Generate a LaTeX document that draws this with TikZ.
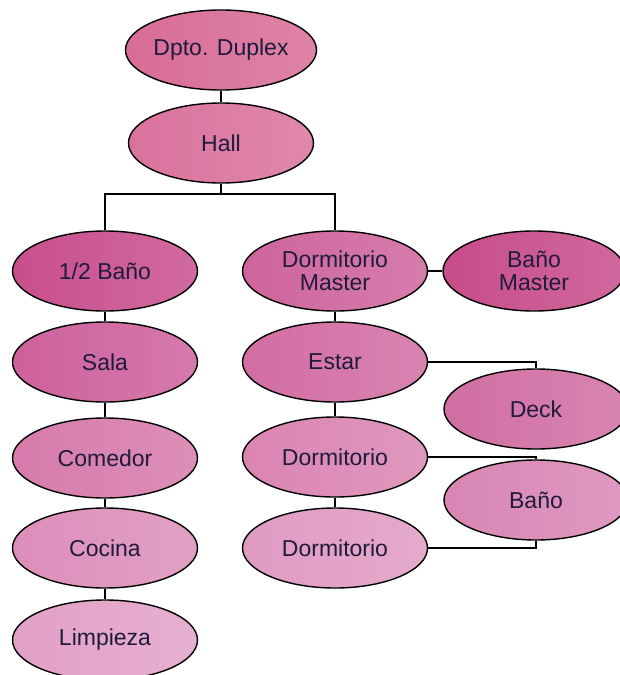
\documentclass[tikz,border=0pt]{standalone}
\usepackage{fontspec}
\setmainfont{Liberation Sans}
\usetikzlibrary{shapes.geometric}
\definecolor{txt}{RGB}{32,26,60}
\definecolor{cA}{RGB}{216,108,150}
\definecolor{cB}{RGB}{218,114,156}
\definecolor{cC}{RGB}{200,78,140}
\definecolor{cD}{RGB}{206,100,156}
\definecolor{cE}{RGB}{199,76,138}
\definecolor{cF}{RGB}{206,96,156}
\definecolor{cG}{RGB}{210,108,162}
\definecolor{cH}{RGB}{208,110,162}
\definecolor{cI}{RGB}{214,122,170}
\definecolor{cJ}{RGB}{218,132,178}
\definecolor{cK}{RGB}{216,134,180}
\definecolor{cL}{RGB}{220,142,186}
\definecolor{cM}{RGB}{224,154,194}
\definecolor{cN}{RGB}{226,160,198}
\begin{document}
\begin{tikzpicture}[x=1pt,y=-1pt,
  el/.style={ellipse, draw=black, line width=1.4pt, minimum width=185pt,
    minimum height=80pt, inner sep=0pt, left color=#1, right color=#1!84!white,
    text=txt, font=\fontsize{23}{23}\selectfont, align=center},
  conn/.style={draw=black, line width=1.4pt}]
\useasboundingbox (0,0) rectangle (619,675);
\coordinate (bus) at (221,194);
\node[el=cA] (dpto) at (221,50) {Dpto. Duplex};
\node[el=cB] (hall) at (221,143) {Hall};
\node[el=cC] (half) at (105,271) {1/2 Baño};
\node[el=cD] (dm) at (335,271) {Dormitorio\\Master};
\node[el=cE, minimum width=182pt] (bm) at (534,271) {Baño\\Master};
\node[el=cF] (sala) at (105,362) {Sala};
\node[el=cG] (estar) at (335,362) {Estar};
\node[el=cH, minimum width=184pt] (deck) at (536,409) {Deck};
\node[el=cI] (comedor) at (105,458) {Comedor};
\node[el=cJ] (d1) at (335,457) {Dormitorio};
\node[el=cK, minimum width=184pt] (bano) at (536,500) {Baño};
\node[el=cL] (cocina) at (105,548) {Cocina};
\node[el=cM] (d2) at (335,548) {Dormitorio};
\node[el=cN] (limp) at (105,640) {Limpieza};
\draw[conn] (dpto.south) -- (hall.north);
\draw[conn] (hall.south) -- (bus);
\draw[conn] (half.north) |- (bus) -| (dm.north);
\draw[conn] (dm.east) -- (bm.west);
\draw[conn] (half.south) -- (sala.north);
\draw[conn] (sala.south) -- (comedor.north);
\draw[conn] (comedor.south) -- (cocina.north);
\draw[conn] (cocina.south) -- (limp.north);
\draw[conn] (dm.south) -- (estar.north);
\draw[conn] (estar.south) -- (d1.north);
\draw[conn] (d1.south) -- (d2.north);
\draw[conn] (estar.east) -| (deck.north);
\draw[conn] (d1.east) -| (bano.north);
\draw[conn] (d2.east) -| (bano.south);
\end{tikzpicture}
\end{document}
